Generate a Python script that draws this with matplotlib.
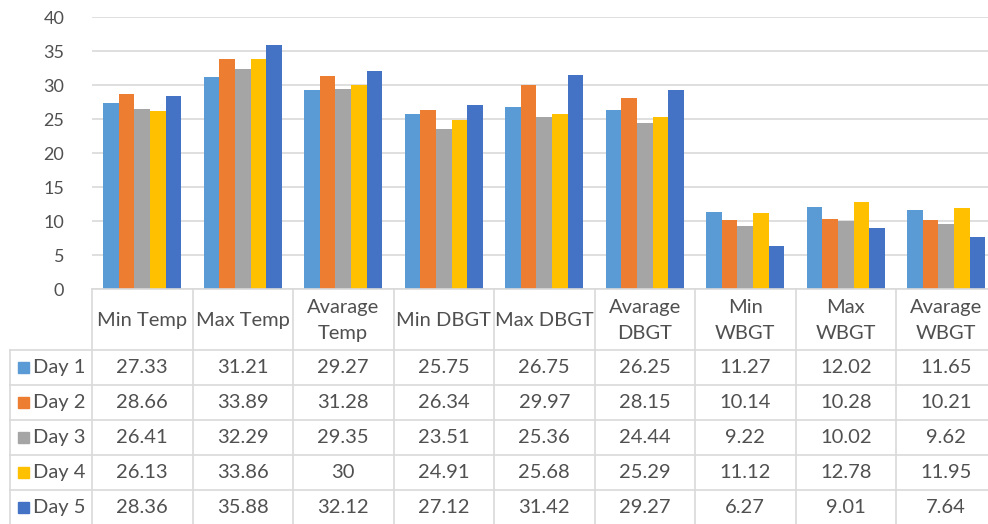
import matplotlib
matplotlib.use("Agg")
import matplotlib.pyplot as plt
import matplotlib.transforms as mtransforms
from matplotlib.patches import Rectangle
import numpy as np

categories = ["Min Temp", "Max Temp", "Avarage\nTemp", "Min DBGT", "Max DBGT",
              "Avarage\nDBGT", "Min\nWBGT", "Max\nWBGT", "Avarage\nWBGT"]
series_names = ["Day 1", "Day 2", "Day 3", "Day 4", "Day 5"]
day1 = [27.33, 31.21, 29.27, 25.75, 26.75, 26.25, 11.27, 12.02, 11.65]
day2 = [28.66, 33.89, 31.28, 26.34, 29.97, 28.15, 10.14, 10.28, 10.21]
day3 = [26.41, 32.29, 29.35, 23.51, 25.36, 24.44, 9.22, 10.02, 9.62]
day4 = [26.13, 33.86, 30, 24.91, 25.68, 25.29, 11.12, 12.78, 11.95]
day5 = [28.36, 35.88, 32.12, 27.12, 31.42, 29.27, 6.27, 9.01, 7.64]
series = [day1, day2, day3, day4, day5]
colors = ["#5B9BD5", "#ED7D31", "#A5A5A5", "#FFC000", "#4472C4"]
yticks = [0, 5, 10, 15, 20, 25, 30, 35, 40]

plt.rcParams['font.family'] = ['Lato', 'DejaVu Sans']
txt = "#505050"
gridc = "#D9D9D9"

W, H = 988, 524
fig = plt.figure(figsize=(W / 100, H / 100), dpi=100)
ax_left, ax_right = 92, 996.5
ax_top, ax_bot = 17, 289
ax = fig.add_axes([ax_left / W, 1 - ax_bot / H, (ax_right - ax_left) / W, (ax_bot - ax_top) / H])

n = len(categories)
x = np.arange(n)
bw = 0.155
for i, (vals, c) in enumerate(zip(series, colors)):
    ax.bar(x + (i - 2) * bw, vals, width=bw, color=c, zorder=3)

ax.set_xlim(-0.5, n - 0.5)
ax.set_ylim(0, 40)
ax.set_yticks(yticks)
ax.set_yticklabels([str(t) for t in yticks], fontsize=13, color=txt)
ax.tick_params(axis='y', length=0, pad=20)
ax.tick_params(axis='x', length=0, labelbottom=False)
ax.grid(axis='y', color=gridc, linewidth=1.2, zorder=0)
for s in ax.spines.values():
    s.set_visible(False)

# data table below the axes (x in data units, y in pixels from figure top)
def fy(py):
    return 1 - py / H

trans = mtransforms.blended_transform_factory(ax.transData, fig.transFigure)
ftrans = fig.transFigure
line_kw = dict(color=gridc, linewidth=1.2, clip_on=False)

header_top, header_bot = 289, 350
row_h = 35
label_left = 10
rows_bot = header_bot + row_h * len(series_names)

# vertical lines
for k in range(n + 1):
    xv = k - 0.5
    fig.add_artist(plt.Line2D([xv, xv], [fy(header_top), fy(rows_bot)], transform=trans, **line_kw))
fig.add_artist(plt.Line2D([label_left / W, label_left / W], [fy(header_bot), fy(rows_bot)], transform=ftrans, **line_kw))
# horizontal lines
fig.add_artist(plt.Line2D([-0.5, n - 0.5], [fy(header_top)] * 2, transform=trans, **line_kw))
for r in range(len(series_names) + 1):
    yy = fy(header_bot + r * row_h)
    fig.add_artist(plt.Line2D([label_left / W, 1.01], [yy, yy], transform=ftrans, **line_kw))

# header text
for k, cat in enumerate(categories):
    fig.text(k, fy((header_top + header_bot) / 2 + 1), cat, transform=trans, ha='center', va='center',
             fontsize=14.5, color=txt, linespacing=1.7)

# rows
for r, (name, vals, c) in enumerate(zip(series_names, series, colors)):
    yc = fy(header_bot + r * row_h + row_h / 2)
    fig.add_artist(Rectangle((18 / W, yc - 5 / H), 11 / W, 11 / H, transform=ftrans, color=c))
    fig.text(33 / W, yc, name, transform=ftrans, ha='left', va='center', fontsize=14.5, color=txt)
    for k, v in enumerate(vals):
        fig.text(k, yc, f"{v:g}", transform=trans, ha='center', va='center', fontsize=14.5, color=txt)

fig.savefig("out.png", dpi=100, facecolor="white")
